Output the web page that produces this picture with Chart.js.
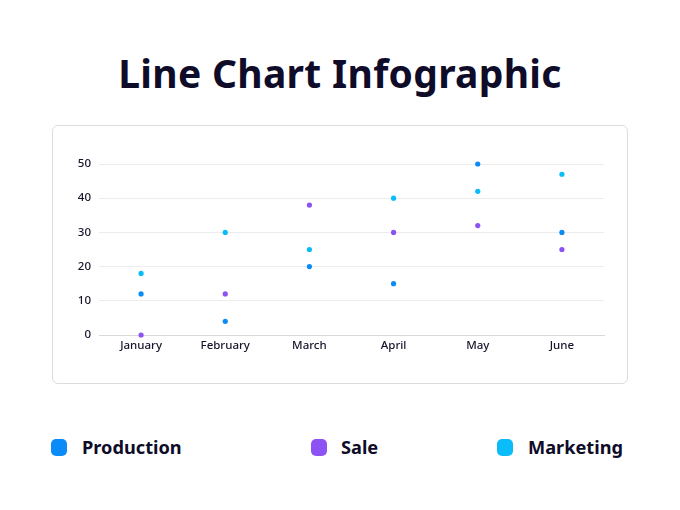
<!DOCTYPE html>
<html>
<head>
<meta charset="utf-8">
<script src="https://cdn.jsdelivr.net/npm/chart.js"></script>
<style>
    body {
        margin: 0;
        width: 680px;
        height: 510px;
        background: #ffffff;
        position: relative;
        font-family: 'Noto Sans', sans-serif;
        overflow: hidden;
    }
    h1 {
        position: absolute;
        top: 46px;
        left: 0;
        width: 680px;
        margin: 0;
        text-align: center;
        font-size: 39px;
        font-weight: 700;
        line-height: 54px;
        color: #0e0c28;
        letter-spacing: 0.3px;
    }
    .card {
        position: absolute;
        left: 52px;
        top: 125px;
        width: 574px;
        height: 257px;
        border: 1px solid #dcdcdc;
        border-radius: 6px;
    }
    .card canvas {
        display: block;
    }
    .legend-item {
        position: absolute;
        top: 435px;
        display: flex;
        align-items: center;
        font-size: 18.2px;
        font-weight: 700;
        color: #0e0c28;
    }
    .legend-item span.box {
        display: inline-block;
        width: 16px;
        height: 17px;
        border-radius: 5px;
    }
</style>
</head>
<body>
<h1>Line Chart Infographic</h1>
<div class="card">
    <canvas id="myChart" width="574" height="257"></canvas>
</div>
<div id="legend"></div>

<script>
    const months = ['January', 'February', 'March', 'April', 'May', 'June'];
    const production = [12, 4, 20, 15, 50, 30];
    const sale = [0, 12, 38, 30, 32, 25];
    const marketing = [18, 30, 25, 40, 42, 47];
    const yTicks = [0, 10, 20, 30, 40, 50];

    const seriesNames = ['Production', 'Sale', 'Marketing'];
    const seriesColors = ['#0a8bf8', '#8c52f4', '#0abcf7'];
    const legendLeft = [51, 311, 497];
    const legendGap = [15, 14, 15];

    const series = [production, sale, marketing];

    const ctx = document.getElementById('myChart');

    new Chart(ctx, {
        type: 'line',
        data: {
            labels: months,
            datasets: series.map((values, i) => ({
                label: seriesNames[i],
                data: values,
                showLine: false,
                clip: false,
                pointRadius: 2.6,
                pointBorderWidth: 0,
                pointBackgroundColor: seriesColors[i],
                borderColor: seriesColors[i]
            }))
        },
        options: {
            responsive: false,
            animation: false,
            layout: {
                padding: { top: 38, right: 23, left: 0, bottom: 0 }
            },
            plugins: {
                legend: { display: false },
                tooltip: { enabled: false }
            },
            scales: {
                x: {
                    offset: true,
                    grid: { display: false, drawTicks: false },
                    border: { color: '#d9d9d9' },
                    ticks: {
                        color: '#15142a',
                        padding: 4,
                        font: { family: 'Noto Sans', size: 11.5, weight: 500 }
                    },
                    afterFit: scale => { scale.height = 48; }
                },
                y: {
                    min: 0,
                    max: 50,
                    afterBuildTicks: scale => {
                        scale.ticks = yTicks.map(v => ({ value: v }));
                    },
                    grid: { color: '#ececec', drawTicks: false },
                    border: { display: false },
                    ticks: {
                        color: '#15142a',
                        padding: 8,
                        font: { family: 'Noto Sans', size: 11.5, weight: 500 }
                    },
                    afterFit: scale => { scale.width = 46; }
                }
            }
        }
    });

    // legend under the card
    const legend = document.getElementById('legend');
    seriesNames.forEach((name, i) => {
        const item = document.createElement('div');
        item.className = 'legend-item';
        item.style.left = legendLeft[i] + 'px';

        const box = document.createElement('span');
        box.className = 'box';
        box.style.background = seriesColors[i];
        box.style.marginRight = legendGap[i] + 'px';

        item.appendChild(box);
        item.appendChild(document.createTextNode(name));
        legend.appendChild(item);
    });
</script>
</body>
</html>
